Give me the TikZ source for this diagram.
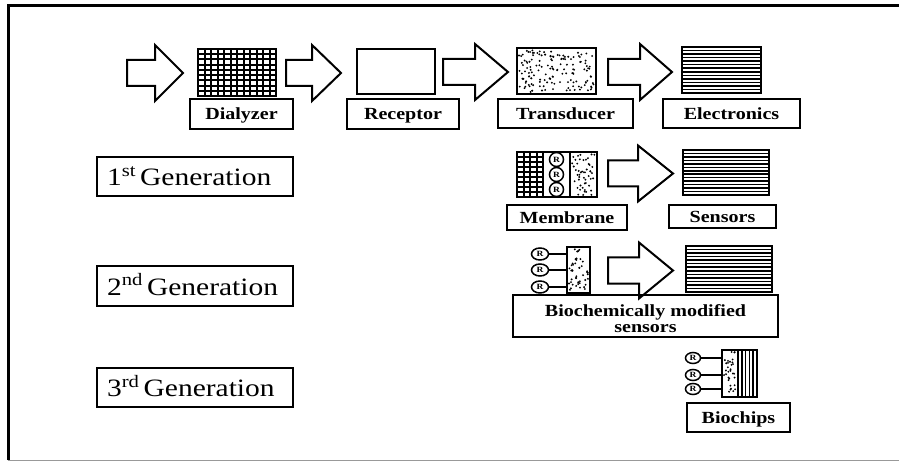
\documentclass[tikz,border=0pt]{standalone}
\usepackage{fontspec}
\setmainfont{Liberation Serif}[FakeStretch=1.18]
\usetikzlibrary{shapes.geometric}

\tikzset{
  tag/.style={draw, line width=1.8pt, inner sep=0pt, text height=14pt, text depth=2pt,
    font=\bfseries\fontsize{17}{13}\selectfont},
  genbox/.style={draw, line width=2pt, inner xsep=10pt, inner ysep=0pt, text width=176pt,
    align=left, minimum height=39pt, text height=20pt, text depth=2pt,
    font=\fontsize{25}{25}\selectfont},
  pane/.style={line width=2.4pt},
  hollow/.style={line width=2pt, fill=white, line join=miter},
  bead/.style={draw, ellipse, line width=1.5pt, inner sep=0pt, fill=white,
    font=\bfseries\fontsize{8}{8}\selectfont},
  stalk/.style={line width=1.5pt},
}

% hollow block arrow: left, neck, tip, middle
\newcommand{\fatarrow}[4]{%
  \draw[hollow] (#1,#4-13) -- (#2,#4-13) -- (#2,#4-28) -- (#3,#4) -- (#2,#4+28)
    -- (#2,#4+13) -- (#1,#4+13) -- cycle;}
% mesh: x1, y1, x2, y2, columns, rows
\newcommand{\meshpane}[6]{%
  \foreach \n in {1,...,#5}
    \draw[line width=2pt] ({#1+\n*(#3-#1)/(#5+1)},#2) -- ({#1+\n*(#3-#1)/(#5+1)},#4);
  \foreach \n in {1,...,#6}
    \draw[line width=2pt] (#1,{#2+\n*(#4-#2)/(#6+1)}) -- (#3,{#2+\n*(#4-#2)/(#6+1)});}
% horizontal stripes
\newcommand{\stripepane}[5]{%
  \foreach \n in {1,...,#5}
    \draw[line width=1.6pt] (#1,{#2+\n*(#4-#2)/(#5+1)}) -- (#3,{#2+\n*(#4-#2)/(#5+1)});}
% vertical stripes
\newcommand{\barpane}[5]{%
  \foreach \n in {1,...,#5}
    \draw[line width=1.6pt] ({#1+\n*(#3-#1)/(#5+1)},#2) -- ({#1+\n*(#3-#1)/(#5+1)},#4);}
% speckles
\newcommand{\speckpane}[5]{%
  \foreach \n in {1,...,#5}
    \fill ({#1+2+rnd*(#3-#1-4)},{#2+2+rnd*(#4-#2-4)}) circle (1.05);}

\begin{document}
\begin{tikzpicture}[x=1pt, y=-1pt]
	\useasboundingbox (0,0) rectangle (899,462);
	\pgfmathsetseed{7}
	% Frame
	\draw[line width=3pt] (8,460) -- (8,5.5) -- (905,5.5);
	\draw[line width=1.5pt, black!40] (8,460.5) -- (905,460.5);
	
	% Top row
	\fatarrow{127}{155}{183}{73}
	\meshpane{198}{49}{276}{96}{11}{8}
	\draw[pane] (198,49) rectangle (276,96);
	\fatarrow{286}{312}{341}{73}
	\draw[pane] (357,49) rectangle (435,94);
	\fatarrow{443}{475}{508}{72}
	\speckpane{517}{48}{596}{94}{150}
	\draw[pane] (517,48) rectangle (596,94);
	\fatarrow{608}{640}{672}{72}
	\stripepane{682}{47}{761}{93}{12}
	\draw[pane] (682,47) rectangle (761,93);
	
	\node[tag, minimum width=103pt, minimum height=30pt] (dialyzer) at (241.5,114) {Dialyzer};
	\node[tag, minimum width=112pt, minimum height=30pt] (receptor) at (403,114) {Receptor};
	\node[tag, minimum width=135pt, minimum height=29pt] (transducer) at (565.5,113.5) {Transducer};
	\node[tag, minimum width=137pt, minimum height=29pt] (electronics) at (731.5,113.5) {Electronics};
	
	% 1st generation
	\node[genbox] (gen1) at (195,176.5) {1\textsuperscript{st}\,Generation};
	\meshpane{517}{152}{543}{197}{3}{8}
	\speckpane{570}{152}{597}{197}{50}
	\draw[pane] (543,152) -- (543,197) (570,152) -- (570,197);
	\draw[pane] (517,152) rectangle (597,197);
	\node[bead, minimum width=14pt, minimum height=14pt] (m1) at (556.5,159.5) {R};
	\node[bead, minimum width=14pt, minimum height=14pt] (m2) at (556.5,174.5) {R};
	\node[bead, minimum width=14pt, minimum height=14pt] (m3) at (556.5,189.5) {R};
	\fatarrow{608}{638}{673}{173.5}
	\stripepane{683}{150}{769}{195}{12}
	\draw[pane] (683,150) rectangle (769,195);
	\node[tag, minimum width=120pt, minimum height=25pt] (membrane) at (567,217.5) {Membrane};
	\node[tag, minimum width=107pt, minimum height=23pt] (sensors) at (722.5,216.5) {Sensors};
	
	% 2nd generation
	\node[genbox] (gen2) at (195,286) {2\textsuperscript{nd}\,Generation};
	\coordinate (face2) at (567,270);
	\node[bead, minimum width=17pt, minimum height=12pt] (s1) at (540,254) {R};
	\node[bead, minimum width=17pt, minimum height=12pt] (s2) at (540,270) {R};
	\node[bead, minimum width=17pt, minimum height=12pt] (s3) at (540,287) {R};
	\foreach \s in {s1,s2,s3}
		\draw[stalk] (\s) -- (\s -| face2);
	\speckpane{567}{247}{590}{293}{45}
	\draw[pane] (567,247) rectangle (590,293);
	\fatarrow{608}{639}{673}{270.5}
	\stripepane{686}{246}{772}{292}{12}
	\draw[pane] (686,246) rectangle (772,292);
	\node[tag, minimum width=265pt, minimum height=42pt, align=center,
		text height=35pt, text depth=3pt]
		(biosensors) at (645.5,316) {Biochemically modified\\[3pt]sensors};
	
	% 3rd generation
	\node[genbox] (gen3) at (195,387.5) {3\textsuperscript{rd}\,Generation};
	\coordinate (face3) at (722,375);
	\node[bead, minimum width=15pt, minimum height=11pt] (c1) at (693,358) {R};
	\node[bead, minimum width=15pt, minimum height=11pt] (c2) at (693,375) {R};
	\node[bead, minimum width=15pt, minimum height=11pt] (c3) at (693,389) {R};
	\foreach \c in {c1,c2,c3}
		\draw[stalk] (\c) -- (\c -| face3);
	\speckpane{722}{350}{738}{397}{32}
	\barpane{738}{350}{757}{397}{4}
	\draw[pane] (738,350) -- (738,397);
	\draw[pane] (722,350) rectangle (757,397);
	\node[tag, minimum width=103pt, minimum height=29pt] (biochips) at (738.5,417.5) {Biochips};
	
\end{tikzpicture}
\end{document}
